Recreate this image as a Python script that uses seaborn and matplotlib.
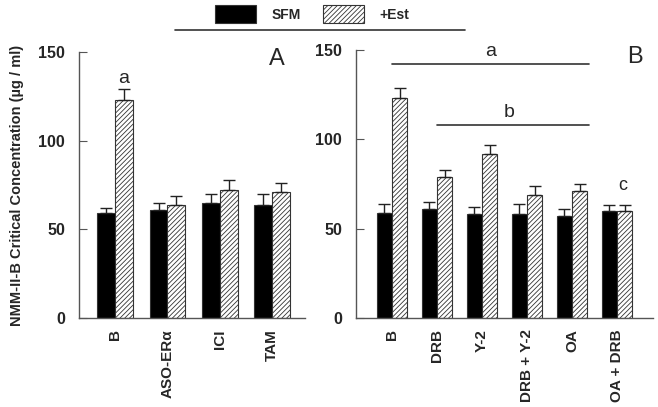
import matplotlib
matplotlib.use("Agg")
import matplotlib.pyplot as plt
from matplotlib.lines import Line2D
import seaborn as sns
import pandas as pd
import numpy as np

# Panel A data
cats_a = ["B", "ASO-ER\u03b1", "ICI", "TAM"]
sfm_a = [59, 61, 65, 64]
est_a = [123, 64, 72, 71]
sfm_a_err = [3, 4, 5, 6]
est_a_err = [6, 5, 6, 5]

# Panel B data
cats_b = ["B", "DRB", "Y-2", "DRB + Y-2", "OA", "OA + DRB"]
sfm_b = [59, 61, 58, 58, 57, 60]
est_b = [123, 79, 92, 69, 71, 60]
sfm_b_err = [5, 4, 4, 6, 4, 3]
est_b_err = [6, 4, 5, 5, 4, 3]

conds = ["SFM", "+Est"]

sns.set_theme(style="ticks")
plt.rcParams['font.family'] = ['Liberation Sans', 'DejaVu Sans']
plt.rcParams['hatch.color'] = '#888888'
plt.rcParams['hatch.linewidth'] = 0.6

fig = plt.figure(figsize=(6.58, 4.07), dpi=100)
ax_a = fig.add_axes([79/658, 89/407, 226/658, 266/407])
ax_b = fig.add_axes([356/658, 89/407, 297/658, 268/407])


def draw_panel(ax, cats, sfm, est, sfm_err, est_err):
    df = pd.DataFrame({
        "cat": cats * 2,
        "cond": ["SFM"] * len(cats) + ["+Est"] * len(cats),
        "val": sfm + est,
    })
    sns.barplot(data=df, x="cat", y="val", hue="cond", hue_order=conds,
                palette=["black", "white"], edgecolor="#333333", linewidth=0.8,
                width=0.68, errorbar=None, legend=False, ax=ax)
    for bar in ax.containers[1]:
        bar.set_hatch("///////")
    for cont, errs in zip(ax.containers, [sfm_err, est_err]):
        xs = [b.get_x() + b.get_width() / 2 for b in cont]
        ys = [b.get_height() for b in cont]
        ax.errorbar(xs, ys, yerr=[np.zeros(len(errs)), errs], fmt="none",
                    ecolor="#222222", elinewidth=1, capsize=4, capthick=1, zorder=1)
    ax.set_ylim(0, 150)
    ax.set_yticks([0, 50, 100, 150])
    ax.set_xlabel("")
    ax.set_ylabel("")
    sns.despine(ax=ax)
    for s in ["left", "bottom"]:
        ax.spines[s].set_color("#555555")
        ax.spines[s].set_linewidth(1)
    ax.tick_params(axis="y", direction="in", length=6, width=0.8, color="#555555",
                   labelsize=11.5, pad=10)
    ax.tick_params(axis="x", length=0, labelsize=11, pad=8, labelrotation=90)
    for lab in ax.get_xticklabels() + ax.get_yticklabels():
        lab.set_fontweight("bold")


draw_panel(ax_a, cats_a, sfm_a, est_a, sfm_a_err, est_a_err)
draw_panel(ax_b, cats_b, sfm_b, est_b, sfm_b_err, est_b_err)

ax_a.set_xlim(-0.69, 3.63)
ax_b.set_xlim(-0.8, 5.8)

ax_a.set_ylabel("NMM-II-B Critical Concentration (\u00b5g / ml)", fontsize=10.5,
                fontweight="bold", labelpad=10)

# panel letters and significance marks
ax_a.text(3.1, 146, "A", fontsize=17, ha="center", va="center")
ax_b.text(5.4, 146, "B", fontsize=17, ha="center", va="center")
ax_a.text(0.17, 135, "a", fontsize=14, ha="center", va="center")

ax_b.plot([0, 4.38], [142, 142], color="#333333", lw=1.2)
ax_b.text(2.2, 149, "a", fontsize=14, ha="center", va="center")
ax_b.plot([1, 4.38], [108, 108], color="#333333", lw=1.2)
ax_b.text(2.6, 115, "b", fontsize=14, ha="center", va="center")
ax_b.text(5.13, 74, "c", fontsize=13, ha="center", va="center")

# legend on top
handles = ax_a.containers[0].patches[0], ax_a.containers[1].patches[0]
leg = fig.legend(handles, conds, loc="center", bbox_to_anchor=(312/658, 1 - 14/407),
                 ncol=2, frameon=False, handlelength=3.0, handleheight=1.57,
                 columnspacing=1.6, handletextpad=1.08, prop={"weight": "bold", "size": 10})
fig.add_artist(Line2D([175/658, 465/658], [1 - 30/407, 1 - 30/407],
                      color="#333333", lw=1.2, transform=fig.transFigure))

fig.savefig("out.png", dpi=100)
